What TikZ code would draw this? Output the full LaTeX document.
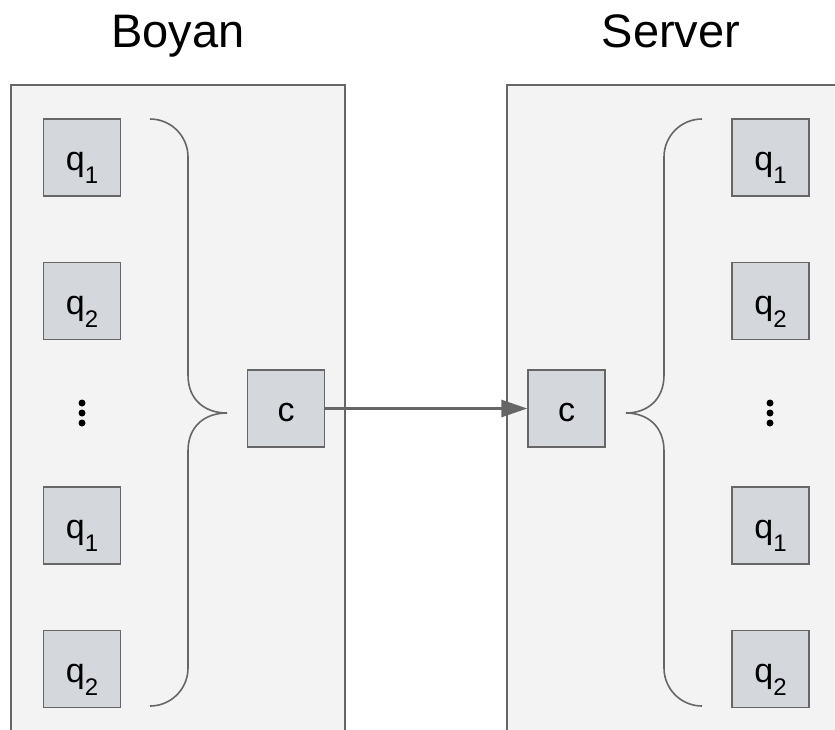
\documentclass[tikz,border=0pt]{standalone}
\usepackage{fontspec}
\setmainfont{Liberation Sans}
\usetikzlibrary{arrows.meta}
\definecolor{panelfill}{HTML}{F3F3F3}
\definecolor{edgegray}{HTML}{666666}
\definecolor{boxfill}{HTML}{D4D8DC}
\newcommand{\qsub}[1]{q\raisebox{-13pt}[0pt][0pt]{\fontsize{24}{24}\selectfont #1}}
\begin{document}
\begin{tikzpicture}[x=1pt,y=-1pt,
  qbox/.style={draw=edgegray,fill=boxfill,line width=1.5pt,minimum width=77pt,minimum height=77pt,inner sep=0pt,text height=26pt,text depth=0pt,font=\fontsize{34}{34}\selectfont},
  brace/.style={draw=edgegray,line width=1.6pt},
  title/.style={font=\fontsize{47}{47}\selectfont,inner sep=0pt},
  dot/.style={circle,fill=black,inner sep=0pt,minimum size=7pt}]
\useasboundingbox (0,0) rectangle (835,729);
% panels
\fill[panelfill] (11,85) rectangle (345,740);
\draw[edgegray,line width=1.5pt] (11,740) -- (11,85) -- (345,85) -- (345,740);
\fill[panelfill] (507,85) rectangle (850,740);
\draw[edgegray,line width=1.5pt] (507,740) -- (507,85) -- (850,85);
% titles
\node[title,anchor=base] (tB) at (178,47) {Boyan};
\node[title,anchor=base] (tS) at (671,47) {Server};
% left boxes
\node[qbox] (l1) at (82,157.5) {\qsub{1}};
\node[qbox] (l2) at (82,301) {\qsub{2}};
\node[qbox] (l3) at (82,525.5) {\qsub{1}};
\node[qbox] (l4) at (82,669) {\qsub{2}};
\node[dot] (ld1) at (82,403) {};
\node[dot] (ld2) at (82,413) {};
\node[dot] (ld3) at (82,423) {};
% right boxes
\node[qbox] (r1) at (770.5,157.5) {\qsub{1}};
\node[qbox] (r2) at (770.5,301) {\qsub{2}};
\node[qbox] (r3) at (770.5,525.5) {\qsub{1}};
\node[qbox] (r4) at (770.5,669) {\qsub{2}};
\node[dot] (rd1) at (770,403) {};
\node[dot] (rd2) at (770,413) {};
\node[dot] (rd3) at (770,423) {};
% c boxes
\node[qbox] (cl) at (286,408.5) {c};
\node[qbox] (cr) at (566.5,408.5) {c};
% braces
\path[brace] (150,119) .. controls (171,119) and (188,136) .. (188,157) -- (188,375)
  .. controls (188,400) and (205,413) .. (227,413)
  .. controls (205,413) and (188,426) .. (188,451) -- (188,668)
  .. controls (188,689) and (171,706) .. (150,706);
\path[brace] (702,119) .. controls (681,119) and (664,136) .. (664,157) -- (664,375)
  .. controls (664,400) and (647,413) .. (626,413)
  .. controls (647,413) and (664,426) .. (664,451) -- (664,668)
  .. controls (664,689) and (681,706) .. (702,706);
% arrow
\draw[edgegray,line width=3pt,-{Triangle[length=26pt,width=17pt]}] (cl.east) -- (cr.west);
\end{tikzpicture}
\end{document}
